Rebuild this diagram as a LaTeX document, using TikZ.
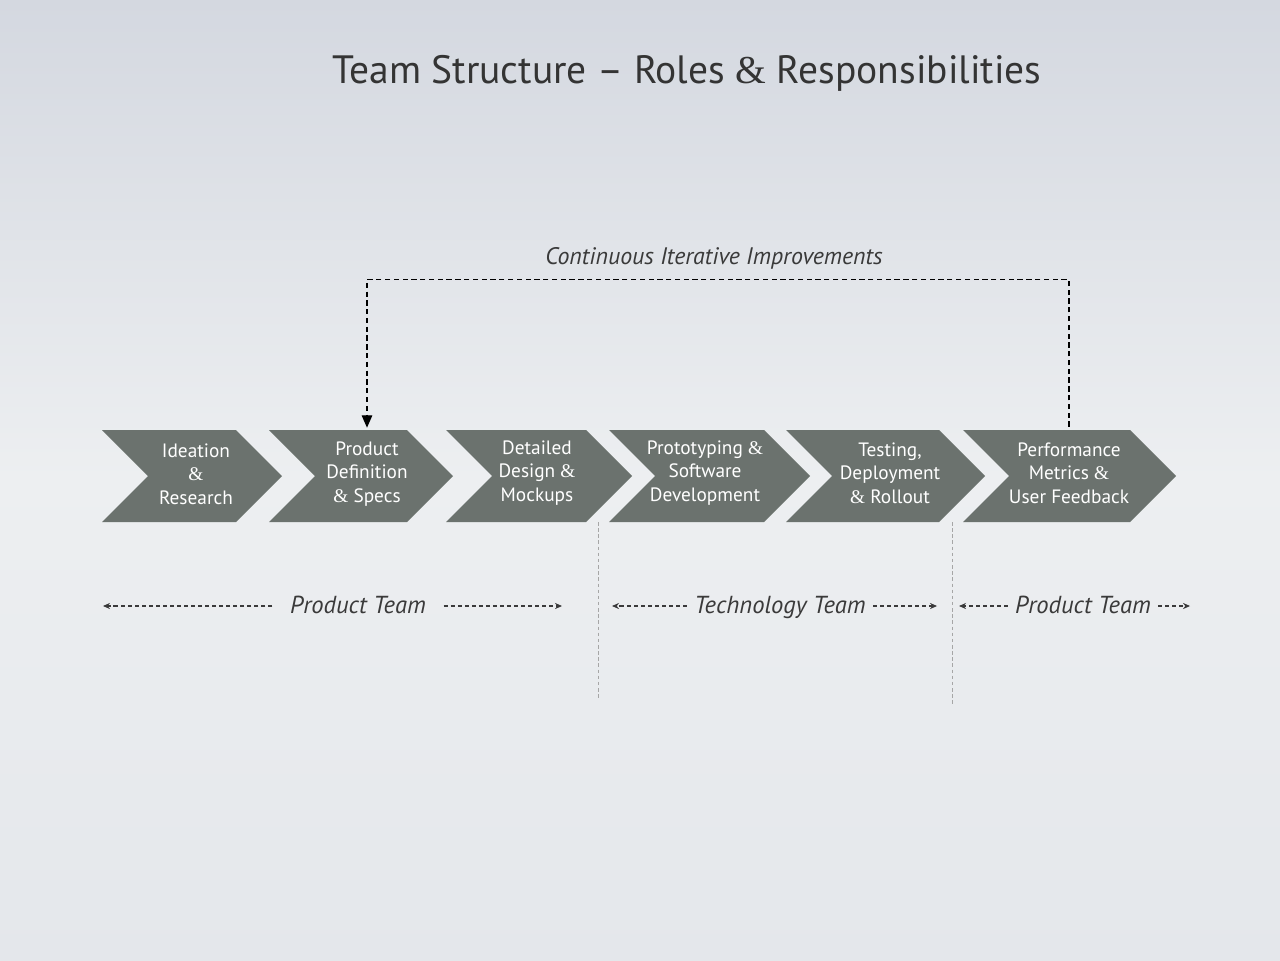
\documentclass[tikz,border=0pt]{standalone}
\usepackage{xcolor}
\usepackage{fontspec}
\setmainfont{PT Sans}
\newfontfamily\ampfont{Liberation Serif}
\newcommand{\amp}{{\ampfont\&}}
\usetikzlibrary{arrows.meta}
\definecolor{chevgray}{RGB}{107,114,110}
\definecolor{inkgray}{RGB}{58,58,58}
\definecolor{bgtop}{RGB}{212,216,224}
\definecolor{bgmid}{RGB}{237,239,241}
\definecolor{bgbot}{RGB}{228,231,235}

\begin{document}
\begin{tikzpicture}[
        x=0.02cm, y=-0.02cm, % 1个单位 = 1像素
        chevron/.style={fill=chevgray},
        steptext/.style={text=white, align=center, minimum height=1.84cm, inner sep=0pt,
            font=\fontsize{11}{13.5}\selectfont},
        teamlabel/.style={text=inkgray, font=\fontsize{14}{16}\selectfont\itshape, inner sep=4pt,
            text height=10pt, text depth=2pt},
        teamarrow/.style={draw=inkgray, line width=0.6pt, dash pattern=on 2.4pt off 1.6pt,
            -{Stealth[length=4pt,width=3.5pt]}},
        loopline/.style={draw=black, line width=0.6pt, dash pattern=on 3pt off 2pt,
            -{Triangle[length=7pt,width=6pt]}},
        divider/.style={draw=gray!70, line width=0.4pt, dash pattern=on 2pt off 1.5pt}
    ]
    % 背景
    \shade[top color=bgtop, bottom color=bgbot, middle color=bgmid] (0,0) rectangle (1280,960);
    \useasboundingbox (0,0) rectangle (1280,960);

    \node[text=inkgray!90!black, font=\fontsize{22.5}{27}\selectfont] (title) at (687,73)
        {Team Structure -- Roles \amp{} Responsibilities};

    % 六个箭头形步骤
    \fill[chevron] (102,430) -- (236,430) -- (282,476) -- (236,522) -- (102,522) -- (148,476) -- cycle;
    \fill[chevron] (269,430) -- (407,430) -- (453,476) -- (407,522) -- (269,522) -- (315,476) -- cycle;
    \fill[chevron] (446,430) -- (586,430) -- (632,476) -- (586,522) -- (446,522) -- (492,476) -- cycle;
    \fill[chevron] (609,430) -- (764,430) -- (810,476) -- (764,522) -- (609,522) -- (655,476) -- cycle;
    \fill[chevron] (786,430) -- (939,430) -- (985,476) -- (939,522) -- (786,522) -- (832,476) -- cycle;
    \fill[chevron] (963,430) -- (1130,430) -- (1176,476) -- (1130,522) -- (963,522) -- (1009,476) -- cycle;

    \node[steptext] (ideation) at (196,474) {Ideation\\\amp\\Research};
    \node[steptext] (definition) at (367,474) {Product\\Definition\\\amp{} Specs};
    \node[steptext] (design) at (537,473) {Detailed\\Design \amp\\Mockups};
    \node[steptext] (prototyping) at (705,473) {Prototyping \amp\\Software\\Development};
    \node[steptext] (testing) at (890,473) {Testing,\\Deployment\\\amp{} Rollout};
    \node[steptext] (feedback) at (1069,473) {Performance\\Metrics \amp\\User Feedback};

    % 反馈回路
    \node[text=inkgray, font=\fontsize{13.6}{16}\selectfont\itshape] (improve) at (714,258)
        {Continuous Iterative Improvements};
    \draw[loopline] (feedback.north) -- ++(0,-147) -| (definition.north);

    % 分隔线
    \coordinate (div1a) at (598,522);
    \coordinate (div1b) at (598,700);
    \coordinate (div2a) at (952,522);
    \coordinate (div2b) at (952,706);
    \draw[divider] (div1a) -- (div1b);
    \draw[divider] (div2a) -- (div2b);

    % 团队
    \node[teamlabel, inner xsep=10pt] (prodteam) at (358,606) {Product Team};
    \node[teamlabel] (techteam) at (780,606) {Technology Team};
    \node[teamlabel] (prodteamb) at (1083,606) {Product Team};
    \coordinate (prodL) at (103,606);
    \coordinate (prodR) at (562,606);
    \coordinate (techL) at (612,606);
    \coordinate (techR) at (937,606);
    \coordinate (prodbL) at (959,606);
    \coordinate (prodbR) at (1190,606);
    \draw[teamarrow] (prodteam) -- (prodL);
    \draw[teamarrow] (prodteam) -- (prodR);
    \draw[teamarrow] (techteam) -- (techL);
    \draw[teamarrow] (techteam) -- (techR);
    \draw[teamarrow] (prodteamb) -- (prodbL);
    \draw[teamarrow] (prodteamb) -- (prodbR);
\end{tikzpicture}
\end{document}
